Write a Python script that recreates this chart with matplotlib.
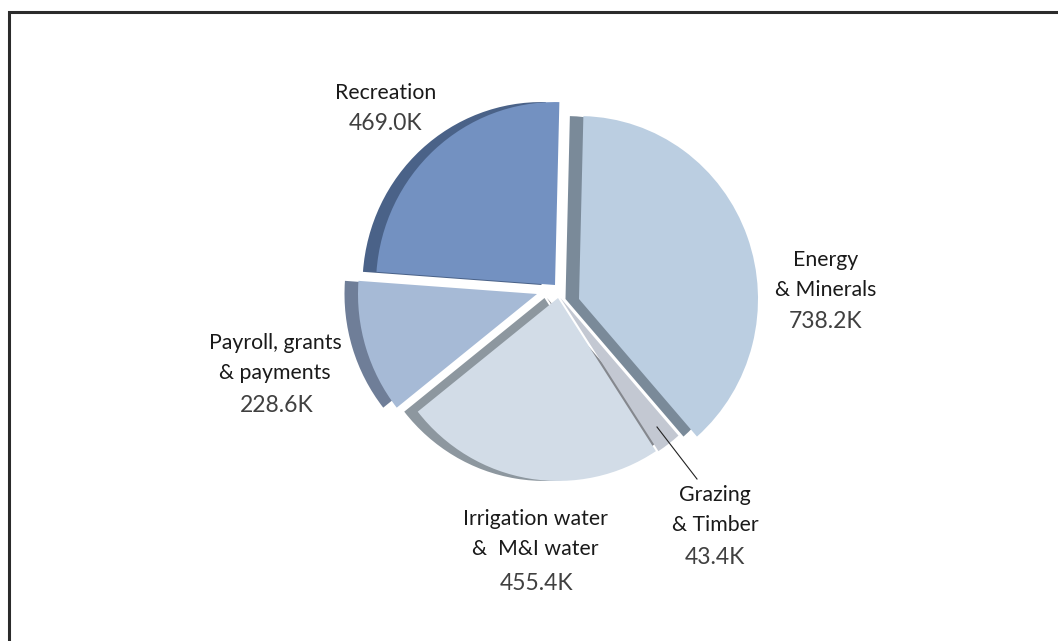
import matplotlib
matplotlib.use('Agg')
import matplotlib.pyplot as plt

plt.rcParams['font.family'] = ['Lato', 'DejaVu Sans']

W, H = 1058, 641

# slice values, clockwise from the top
names = ['Energy\n& Minerals', 'Grazing\n& Timber', 'Irrigation water\n&  M&I water',
         'Payroll, grants\n& payments', 'Recreation']
values = [738.2, 43.4, 455.4, 228.6, 469.0]
value_labels = ['738.2K', '43.4K', '455.4K', '228.6K', '469.0K']

# styling / layout, in reference pixels
colors = ['#BBCEE1', '#C3C8D2', '#D2DCE7', '#A6BAD6', '#7391C1']
side_colors = ['#7A8A99', '#85888E', '#8D979F', '#6F7E98', '#4A6288']
apex = [(579, 299), (560.5, 298), (558, 298), (537, 294), (555, 285)]
name_pos = [(826, 275), (715, 510), (535, 534), (275, 358), (386, 93)]
value_pos = [(826, 322), (715, 558), (537, 583), (277, 405), (386, 124)]
depth = 13.5
radius = 179
squash = 1.022  # the reference pie is slightly taller than wide
start = 88.6


def py(y):
    return (H - y) / squash


fig = plt.figure(figsize=(W / 100, H / 100), dpi=100, facecolor='white')
ax = fig.add_axes([0, 0, 1, 1])

# side faces first, so every top face sits over them
side, _ = ax.pie(values, startangle=start, counterclock=False, radius=radius,
                 colors=side_colors, frame=False)
for w, (x, y) in zip(side, apex):
    w.set_center((x - depth, py(y)))
    w.set_zorder(1)

top, _ = ax.pie(values, startangle=start, counterclock=False, radius=radius,
                colors=colors, frame=False)
for w, (x, y) in zip(top, apex):
    w.set_center((x, py(y)))
    w.set_zorder(2)

ax.set_xlim(0, W)
ax.set_ylim(0, H / squash)
ax.set_aspect('auto')
ax.axis('off')

# leader line for the small slice
ax.plot([657, 697], [py(427), py(479)], color='#222222', lw=0.8, zorder=3)

# frame: only the top and left sides show
ax.plot([8.5, 8.5, W], [0, py(11.5), py(11.5)], color='#2b2b2b', lw=2.2,
        solid_joinstyle='miter', zorder=3)

for name, (x, y) in zip(names, name_pos):
    ax.text(x, py(y), name, ha='center', va='center', fontsize=15.3,
            color='#1a1a1a', linespacing=1.6, zorder=4)
for label, (x, y) in zip(value_labels, value_pos):
    ax.text(x, py(y), label, ha='center', va='center', fontsize=16.5,
            color='#404040', zorder=4)

fig.savefig('out.png', dpi=100)
